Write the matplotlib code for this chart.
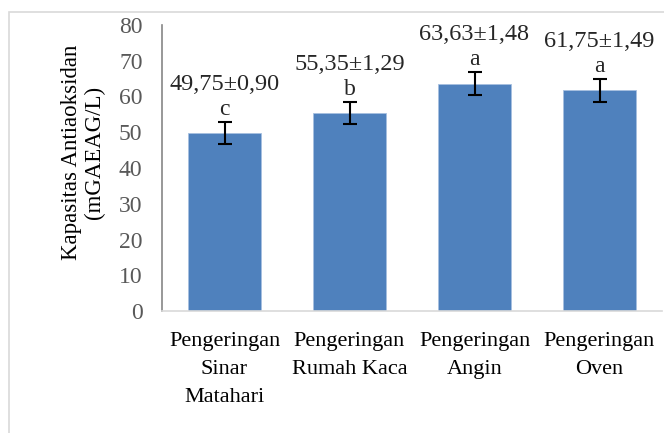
import matplotlib
matplotlib.use('Agg')
import matplotlib.pyplot as plt
from matplotlib.patches import Rectangle

# data
categories = ['Pengeringan\nSinar\nMatahari', 'Pengeringan\nRumah Kaca',
              'Pengeringan\nAngin', 'Pengeringan\nOven']
values = [49.75, 55.35, 63.63, 61.75]
sd_text = ['0,90', '1,29', '1,48', '1,49']
err_bars = [3.1, 3.1, 3.2, 3.2]   # drawn error bar size (as seen in the picture)
letters = ['c', 'b', 'a', 'a']

plt.rcParams['font.family'] = ['Liberation Serif', 'DejaVu Serif']

fig = plt.figure(figsize=(6.64, 4.33), dpi=100)

# light grey chart border (Excel style)
fig.patches.append(Rectangle((9 / 664, -0.1), 1.2, 421 / 433 + 0.1,
                             transform=fig.transFigure, fill=False,
                             edgecolor='#d9d9d9', linewidth=1.2))

ax = fig.add_axes([162 / 664, 122 / 433, 500 / 664, 286 / 433])
x = range(len(values))
ax.bar(x, values, width=0.58, color='#4f81bd', edgecolor='#a7c0e0', linewidth=0.6,
       yerr=err_bars, error_kw=dict(ecolor='black', elinewidth=1.5, capsize=5, capthick=1.5))

for i, v in enumerate(values):
    top = v + err_bars[i]
    ax.annotate(letters[i], (i, top), xytext=(0, 2), textcoords='offset pixels',
                ha='center', va='bottom', fontsize=17, color='#262626')
    ax.annotate(f"{str(v).replace('.', ',')}±{sd_text[i]}", (i, top),
                xytext=(0, 27), textcoords='offset pixels',
                ha='center', va='bottom', fontsize=17.5, color='#262626')

ax.set_xlim(-0.5, 3.5)
ax.set_ylim(0, 80)
ax.set_yticks(range(0, 81, 10))
ax.set_xticks(list(x))
ax.set_xticklabels(categories, fontsize=16, color='black', linespacing=1.65)
ax.tick_params(axis='y', length=0, pad=14, labelsize=17, labelcolor='#595959')
ax.tick_params(axis='x', length=0, pad=15)

for s in ['top', 'right']:
    ax.spines[s].set_visible(False)
ax.spines['left'].set_color('#868686')
ax.spines['left'].set_linewidth(1.2)
ax.spines['bottom'].set_color('#d9d9d9')
ax.spines['bottom'].set_linewidth(1.2)

fig.text(83 / 664, 1 - 152 / 433, 'Kapasitas Antiaoksidan\n(mGAEAG/L)',
         rotation=90, ha='center', va='center', fontsize=16.5, linespacing=1.15)

fig.savefig('out.png', dpi=100)
